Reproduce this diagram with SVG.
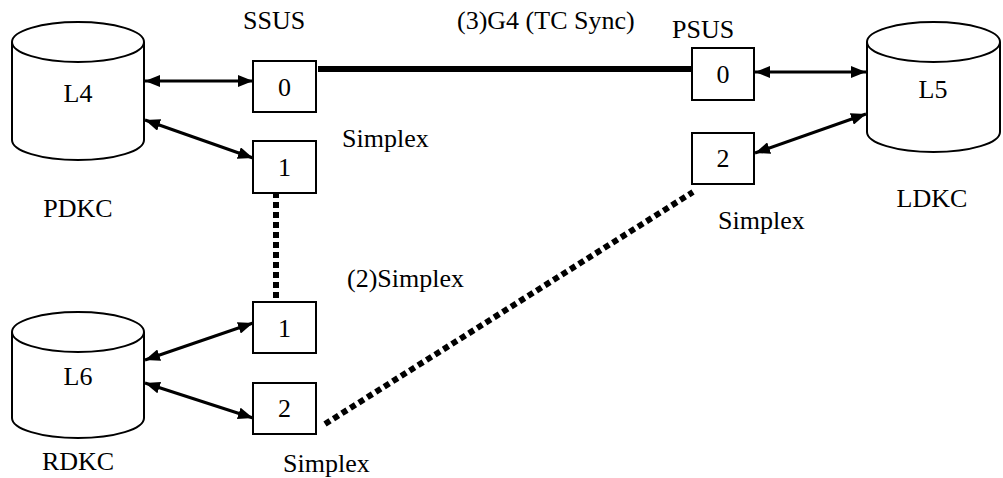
<svg xmlns="http://www.w3.org/2000/svg" width="1003" height="478" viewBox="0 0 1003 478">
<style>
.c{text-anchor:middle}
.cyl{fill:#fff;stroke:#000;stroke-width:2}
.box{fill:#fff;stroke:#000;stroke-width:2}
.arr{stroke:#000;stroke-width:3;fill:none;marker-start:url(#ah);marker-end:url(#ah)}
.dot{stroke:#000;stroke-width:6;fill:none;stroke-dasharray:6 4}
</style>
<defs>
<marker id="ah" viewBox="0 0 15 12" refX="15" refY="6" markerWidth="15" markerHeight="12" markerUnits="userSpaceOnUse" orient="auto-start-reverse">
<path d="M0,0 L15,6 L0,12 z" fill="#000"/>
</marker>
</defs>
<g id="connectors">
<line x1="318" y1="69" x2="692" y2="69" stroke="#000" stroke-width="6"/>
<line class="dot" x1="276" y1="182" x2="276" y2="302"/>
<line class="dot" x1="325" y1="424" x2="693" y2="192"/>
<line class="arr" x1="145" y1="81" x2="253" y2="81"/>
<line class="arr" x1="145" y1="120" x2="253" y2="158"/>
<line class="arr" x1="755" y1="72" x2="866" y2="72"/>
<line class="arr" x1="755" y1="153" x2="866" y2="114"/>
<line class="arr" x1="145" y1="360" x2="253" y2="323"/>
<line class="arr" x1="145" y1="383" x2="253" y2="418"/>
</g>
<g id="L4">
<path class="cyl" d="M12,42 V140 A66,20 0 0 0 144,140 V42"/>
<ellipse class="cyl" cx="78" cy="42" rx="66" ry="20"/>
<text class="c" x="78" y="102" font-family="Liberation Serif" font-size="26">L4</text>
<text class="c" x="78" y="217" font-family="Liberation Serif" font-size="26">PDKC</text>
</g>
<g id="L5">
<path class="cyl" d="M867,42 V132 A66.5,20 0 0 0 1000,132 V42"/>
<ellipse class="cyl" cx="933.5" cy="42" rx="66.5" ry="20"/>
<text class="c" x="933" y="98" font-family="Liberation Serif" font-size="26">L5</text>
<text class="c" x="932" y="207" font-family="Liberation Serif" font-size="26">LDKC</text>
</g>
<g id="L6">
<path class="cyl" d="M12,332 V418 A66,20 0 0 0 144,418 V332"/>
<ellipse class="cyl" cx="78" cy="332" rx="66" ry="20"/>
<text class="c" x="78" y="385" font-family="Liberation Serif" font-size="26">L6</text>
<text class="c" x="78" y="470" font-family="Liberation Serif" font-size="26">RDKC</text>
</g>
<g id="ssus0">
<rect class="box" x="253" y="61" width="63" height="51"/>
<text class="c" x="284.5" y="96" font-family="Liberation Serif" font-size="26">0</text>
</g>
<g id="ssus1">
<rect class="box" x="253" y="141" width="63" height="52"/>
<text class="c" x="284.5" y="176" font-family="Liberation Serif" font-size="26">1</text>
</g>
<g id="psus0">
<rect class="box" x="692" y="48" width="62" height="52"/>
<text class="c" x="723" y="83" font-family="Liberation Serif" font-size="26">0</text>
</g>
<g id="psus2">
<rect class="box" x="692" y="133" width="62" height="51"/>
<text class="c" x="723" y="167" font-family="Liberation Serif" font-size="26">2</text>
</g>
<g id="r1">
<rect class="box" x="253" y="302" width="63" height="51"/>
<text class="c" x="284.5" y="337" font-family="Liberation Serif" font-size="26">1</text>
</g>
<g id="r2">
<rect class="box" x="253" y="383" width="63" height="51"/>
<text class="c" x="284.5" y="417" font-family="Liberation Serif" font-size="26">2</text>
</g>
<g id="labels">
<text x="243" y="29" font-family="Liberation Serif" font-size="26">SSUS</text>
<text x="457" y="29" font-family="Liberation Serif" font-size="26">(3)G4 (TC Sync)</text>
<text x="672" y="38" font-family="Liberation Serif" font-size="26">PSUS</text>
<text x="342" y="147" font-family="Liberation Serif" font-size="26">Simplex</text>
<text x="718" y="229" font-family="Liberation Serif" font-size="26">Simplex</text>
<text x="347" y="287" font-family="Liberation Serif" font-size="26">(2)Simplex</text>
<text x="283" y="472" font-family="Liberation Serif" font-size="26">Simplex</text>
</g>
</svg>
